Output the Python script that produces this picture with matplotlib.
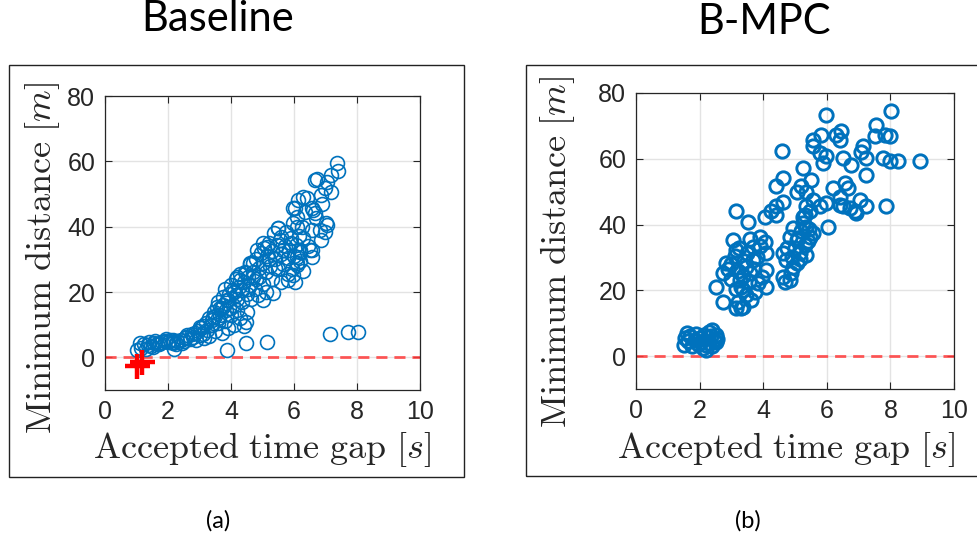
import matplotlib.pyplot as plt
from matplotlib.patches import Rectangle

plt.rcParams['mathtext.fontset'] = 'cm'

# Baseline: accepted time gap [s] vs minimum distance [m]
base_gap = [1.0, 1.1, 1.53, 1.74, 2.16, 2.16, 2.2,
            3.86, 4.49, 5.13, 4.49, 7.14, 7.72, 8.04,
            7.35, 7.4, 7.19, 6.72, 6.98, 7.19, 6.87, 6.4, 6.13, 6.56, 6.66, 6.03, 6.08,
            7.03, 6.98, 6.87, 6.56, 6.24, 5.97, 5.5, 5.6, 6.56, 6.56, 6.19, 6.08, 5.97,
            6.03, 5.6, 5.34, 5.02, 5.02, 4.81, 4.7, 4.49, 4.28, 4.07, 3.86, 3.64, 3.43,
            3.0, 2.58,
            1.15, 1.25, 1.3, 1.4, 1.45, 1.55, 1.6, 1.7, 1.8, 1.9, 2.0, 2.05, 2.15, 2.3,
            2.4, 2.45, 2.55, 2.6, 2.7, 2.75, 2.8, 2.9, 2.95, 3.0, 3.05, 3.1, 3.15, 3.2,
            3.25, 3.3, 3.3, 3.35, 3.4, 3.45, 3.5, 3.5, 3.55, 3.6, 3.6, 3.65, 3.7, 3.7,
            3.75, 3.8, 3.8, 3.85, 3.9, 3.9, 3.95, 4.0, 4.0, 4.05, 4.1, 4.1, 4.15, 4.2,
            4.2, 4.25, 4.3, 4.3, 4.35, 4.4, 4.4, 4.45, 4.5, 4.5, 4.55, 4.6, 4.6, 4.65,
            4.7, 4.75, 4.8, 4.8, 4.85, 4.9, 4.95, 5.0, 5.0, 5.05, 5.1, 5.1, 5.15, 5.2,
            5.25, 5.3, 5.3, 5.35, 5.4, 5.45, 5.5, 5.55, 5.6, 5.65, 5.7, 5.75, 5.8, 5.8,
            5.85, 5.9, 5.95, 6.0, 6.05, 6.1, 6.15, 6.2,
            6.3, 6.45, 6.3, 6.7, 6.35, 6.9, 6.2,
            7.04, 6.67, 6.3, 6.6, 7.04, 5.97, 6.08, 5.5, 6.5, 5.8, 5.13, 4.6, 4.18, 6.08, 6.83,
            1.35, 1.65, 1.95, 2.25, 2.5, 2.85, 3.1, 3.4, 3.6, 3.75, 3.95, 4.15, 4.35, 4.55,
            4.7, 4.9, 5.2, 5.4, 5.65, 5.9]
base_dist = [2.2, 4.3, 3.3, 4.5, 5.3, 4.3, 2.6,
             2.2, 4.3, 4.8, 10.9, 7.1, 7.9, 7.9,
             59.4, 57.0, 55.8, 54.6, 51.7, 50.7, 49.7, 48.7, 48.2, 45.6, 44.1, 45.6, 43.1,
             41.0, 38.5, 35.9, 39.0, 40.0, 41.0, 39.5, 36.9, 32.9, 30.8, 32.3, 28.3, 25.2,
             23.2, 23.2, 19.6, 17.6, 34.9, 32.9, 28.8, 25.7, 23.7, 20.6, 17.6, 15.0, 12.4,
             9.4, 6.3,
             3.0, 4.2, 2.5, 4.8, 3.6, 4.5, 5.0, 4.2, 4.8, 5.0, 4.6, 5.2, 4.8, 5.0,
             5.4, 4.4, 5.8, 6.8, 5.6, 7.0, 6.2, 5.2, 8.0, 6.8, 9.0, 7.2, 5.8, 10.5,
             8.4, 12.0, 6.5, 9.8, 11.5, 14.0, 8.0, 12.8, 15.5, 10.5, 17.0, 13.0, 7.5, 15.2,
             18.5, 11.0, 21.0, 14.5, 9.0, 17.5, 19.5, 13.0, 22.0, 16.0, 10.0, 20.0, 24.0, 14.5,
             18.0, 21.5, 25.5, 12.0, 17.0, 23.0, 9.5, 26.0, 19.5, 14.0, 24.5, 22.0, 28.5, 18.0,
             26.0, 21.0, 30.0, 24.0, 19.0, 27.5, 32.0, 22.5, 29.0, 33.5, 26.0, 20.0, 31.0, 35.0,
             28.0, 24.0, 32.5, 38.0, 30.0, 34.5, 27.0, 36.0, 31.5, 28.5, 34.0, 38.5, 25.5, 30.5,
             33.0, 36.5, 27.0, 31.0, 34.5, 29.0, 37.0, 33.0,
             26.5, 34.0, 36.5, 42.5, 44.5, 47.0, 29.5,
             53.8, 54.3, 49.2, 45.1, 40.5, 45.7, 40.0, 39.6, 32.9, 23.7, 33.9, 28.9, 24.7, 30.8, 39.0,
             3.8, 4.0, 5.5, 4.2, 5.0, 7.5, 9.5, 10.0, 12.0, 16.0, 15.0, 19.0, 20.5, 21.0,
             24.5, 24.5, 30.0, 27.5, 33.0, 35.0]

# Collisions in the baseline runs
crash_gap = [1.02, 1.18]
crash_dist = [-2.8, -1.5]

# B-MPC
bmpc_gap = [5.99, 8.03, 7.56, 7.82, 7.98, 7.51, 7.14, 7.08, 7.24, 7.77, 7.98, 8.24, 8.92,
            7.24, 7.85, 6.46, 6.3, 6.41, 5.83, 5.57, 5.57, 5.78, 5.99, 5.88, 6.51, 6.77,
            5.26, 4.6, 4.62, 4.41, 4.41, 4.41, 4.26, 4.62, 4.05, 3.16, 3.52, 3.89, 3.68,
            4.05, 4.1, 4.1, 4.1, 3.84, 3.05, 3.16, 2.84, 2.74, 2.53, 2.74, 3.16, 3.36,
            3.63, 3.36, 3.26, 3.57, 3.68, 3.47, 4.62, 4.73, 4.62, 4.83, 4.88, 5.05, 5.15,
            5.05, 4.94, 4.83, 5.36, 5.25, 5.36, 5.46, 5.57, 5.36, 5.05, 5.2, 5.51, 5.78,
            6.04, 5.99, 6.19, 6.41, 6.56, 6.67, 6.51, 6.72, 6.88, 7.03, 7.24, 6.93, 6.41,
            5.31, 5.36, 5.46, 5.57,
            1.5, 1.55, 1.6, 1.65, 1.7, 1.75, 1.85, 1.9, 1.95, 2.0, 2.05, 2.1, 2.15, 2.2,
            2.2, 2.25, 2.3, 2.3, 2.35, 2.4, 2.4, 2.45, 2.5, 2.5, 2.55,
            3.0, 3.1, 3.2, 3.25, 3.3, 3.35, 3.4, 3.45, 3.5, 3.55, 3.6, 3.7, 3.75, 3.8,
            3.9, 3.95, 3.15, 3.0, 2.9, 3.2, 3.3,
            4.7, 4.75, 4.9, 5.0, 5.1, 5.2, 5.25, 5.3, 5.4, 5.45, 4.95, 5.15]
bmpc_dist = [73.4, 74.6, 70.4, 67.3, 67.0, 66.8, 64.0, 62.2, 60.2, 60.2, 59.2, 59.2, 59.2,
             55.1, 45.5, 68.3, 67.3, 65.8, 67.3, 65.8, 63.8, 61.7, 60.7, 58.7, 60.2, 58.2,
             57.2, 62.5, 54.1, 51.6, 45.5, 42.9, 44.0, 47.0, 42.4, 44.0, 40.9, 36.3, 33.3,
             34.8, 31.3, 26.2, 21.1, 22.1, 35.3, 32.3, 28.2, 25.2, 21.1, 16.5, 14.5, 15.0,
             17.0, 20.1, 23.1, 25.2, 29.2, 27.2, 31.3, 29.2, 24.2, 23.1, 25.2, 28.2, 31.3,
             35.3, 38.9, 36.3, 39.4, 42.4, 45.5, 44.0, 47.5, 50.0, 50.0, 51.6, 53.6, 45.5,
             39.4, 46.5, 51.1, 48.5, 52.6, 51.1, 45.5, 45.0, 44.0, 47.5, 45.5, 43.5, 46.0,
             33.8, 30.8, 36.3, 37.4,
             3.5, 5.5, 7.0, 4.5, 6.2, 3.0, 5.0, 6.8, 3.8, 5.5, 4.2, 2.5, 6.5, 3.5,
             1.8, 5.8, 7.2, 4.0, 6.0, 3.2, 8.0, 5.0, 6.5, 4.2, 5.2,
             28.0, 30.5, 26.0, 33.0, 21.0, 24.5, 29.0, 18.5, 31.5, 22.5, 35.5, 26.5, 19.5, 30.0,
             33.5, 24.0, 20.5, 23.5, 26.5, 16.5, 14.5,
             22.5, 33.0, 30.0, 33.0, 36.0, 38.0, 40.5, 43.0, 35.0, 38.5, 27.0, 29.5]

blue = '#0072BD'
dark = '#262626'
serif_size = 26


def style_axes(ax):
    ax.set_xlim(0, 10)
    ax.set_ylim(-10, 80)
    ax.set_xticks([0, 2, 4, 6, 8, 10])
    ax.set_yticks([0, 20, 40, 60, 80])
    ax.grid(True, color='#e3e3e3', linewidth=1.0)
    ax.set_axisbelow(True)
    ax.tick_params(direction='in', length=5, width=0.8, top=True, right=True,
                   labelsize=18, colors=dark, pad=7)
    for lab in ax.get_xticklabels() + ax.get_yticklabels():
        lab.set_family('Liberation Sans')
    for sp in ax.spines.values():
        sp.set_color(dark)
        sp.set_linewidth(0.9)
    ax.axhline(0, color='#ff3b3b', alpha=0.85, linewidth=2.0, dashes=(4, 2.5), zorder=1)
    ax.set_xlabel(r'$\mathrm{Accepted\ time\ gap}\ [s]$', fontsize=serif_size, color=dark)
    ax.set_ylabel(r'$\mathrm{Minimum\ distance}\ [m]$', fontsize=serif_size, color=dark)
    ax.xaxis.label.set_va('center')
    ax.yaxis.label.set_va('center')


fig = plt.figure(figsize=(9.77, 5.44), dpi=100)

# frames around each panel
fig.patches.append(Rectangle((9 / 977, 1 - 477 / 544), 455 / 977, 412 / 544,
                             transform=fig.transFigure, fill=False, edgecolor='#222222', linewidth=1.0))
fig.patches.append(Rectangle((526 / 977, 1 - 476 / 544), 460 / 977, 411 / 544,
                             transform=fig.transFigure, fill=False, edgecolor='#222222', linewidth=1.0))

ax1 = fig.add_axes([105 / 977, 1 - 390 / 544, 315 / 977, 294 / 544])
style_axes(ax1)
ax1.plot(base_gap, base_dist, 'o', markerfacecolor='none', markeredgecolor=blue,
         markersize=10, markeredgewidth=1.2, zorder=3)
ax1.plot(crash_gap, crash_dist, '+', color='#ff0000', markersize=18, markeredgewidth=3.2, zorder=4)
ax1.xaxis.set_label_coords(0.498, -0.204)
ax1.yaxis.set_label_coords(-0.197, 0.449)

ax2 = fig.add_axes([636 / 977, 1 - 389 / 544, 318 / 977, 296 / 544])
style_axes(ax2)
ax2.plot(bmpc_gap, bmpc_dist, 'o', markerfacecolor='none', markeredgecolor=blue,
         markersize=9.6, markeredgewidth=2.1, zorder=3)
ax2.xaxis.set_label_coords(0.472, -0.206)
ax2.yaxis.set_label_coords(-0.248, 0.463)

fig.text(218 / 977, 1 - 19 / 544, 'Baseline', fontsize=30, family='Lato', ha='center', va='center')
fig.text(764 / 977, 1 - 22 / 544, 'B-MPC', fontsize=30, family='Lato', ha='center', va='center')
fig.text(218 / 977, 1 - 521 / 544, '(a)', fontsize=17, family='Lato', ha='center', va='center')
fig.text(748 / 977, 1 - 521 / 544, '(b)', fontsize=17, family='Lato', ha='center', va='center')

fig.savefig('out.png', dpi=100)
